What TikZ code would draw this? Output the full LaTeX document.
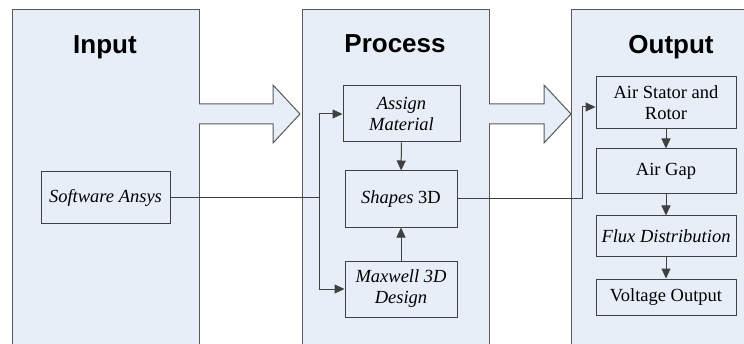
\documentclass[tikz,border=0pt]{standalone}
\usepackage{fontspec}
\setmainfont{Liberation Serif}
\newfontfamily\titlefont{Liberation Sans}
\usetikzlibrary{arrows.meta,positioning}
\definecolor{panelblue}{HTML}{E7EEF8}
\definecolor{panelline}{HTML}{595959}
\definecolor{boxline}{HTML}{404040}
\begin{document}
\begin{tikzpicture}[x=1pt,y=1pt,
    panel/.style={draw=panelline,line width=1.2pt,fill=panelblue,anchor=north west,inner sep=0pt},
    paneltitle/.style={font=\titlefont\bfseries\fontsize{26}{30}\selectfont},
    stepbox/.style={draw=boxline,line width=1pt,align=center,inner sep=0pt,font=\fontsize{18.5}{21}\selectfont},
    link/.style={draw=boxline,line width=1pt},
    tip/.style={-{Triangle[length=10pt,width=9pt]}}]
    \useasboundingbox (0,0) rectangle (744,343);
    \clip (0,0) rectangle (744,343);
    % panels
    \node[panel,minimum width=187pt,minimum height=350pt] (inpanel) at (12,334) {};
    \node[panel,minimum width=187pt,minimum height=350pt] (procpanel) at (302,334) {};
    \node[panel,minimum width=190pt,minimum height=350pt] (outpanel) at (571,334) {};
    \node[paneltitle] (intitle) at (105,296) {Input};
    \node[paneltitle] (proctitle) at (395,299) {Process};
    \node[paneltitle] (outtitle) at (671,296) {Output};
    % block arrows
    \foreach \a/\b in {199/300,489/571}
        \draw[draw=panelline,line width=1pt,fill=panelblue]
            (\a,219) -- (\b-27,219) -- (\b-27,200) -- (\b,229) -- (\b-27,258)
            -- (\b-27,239) -- (\a,239);
    % input
    \node[stepbox,minimum width=129pt,minimum height=51pt] (ansys) at (105.5,145.5) {\itshape Software Ansys};
    % process
    \node[stepbox,minimum width=117pt,minimum height=56pt] (assign) at (401.5,229) {\itshape Assign\\\itshape Material};
    \node[stepbox,minimum width=112pt,minimum height=56pt] (shapes) at (401,144) {\textit{Shapes} 3D};
    \node[stepbox,minimum width=112pt,minimum height=56pt] (maxwell) at (401,54) {\itshape Maxwell 3D\\\itshape Design};
    % output
    \node[stepbox,minimum width=140pt,minimum height=52pt] (stator) at (666,240) {Air Stator and\\Rotor};
    \node[stepbox,minimum width=140pt,minimum height=45pt] (gap) at (666,171.5) {Air Gap};
    \node[stepbox,minimum width=140pt,minimum height=40pt] (flux) at (666,107) {\itshape Flux Distribution};
    \node[stepbox,minimum width=140pt,minimum height=36pt] (volt) at (666,46) {Voltage Output};
    % connectors
    \coordinate (split) at (319,145.5);
    \coordinate (bend) at (582,144);
    \draw[link] (ansys.east) -- (split);
    \draw[link,tip] (split) |- (assign.west);
    \draw[link,tip] (split) |- (maxwell.west);
    \draw[link,tip] (assign) -- (shapes);
    \draw[link,tip] (maxwell) -- (shapes);
    \draw[link] (shapes.east) -- (bend);
    \draw[link,tip] (bend) |- ([yshift=-4pt]stator.west);
    \draw[link,tip] (stator) -- (gap);
    \draw[link,tip] (gap) -- (flux);
    \draw[link,tip] (flux) -- (volt);
\end{tikzpicture}
\end{document}
